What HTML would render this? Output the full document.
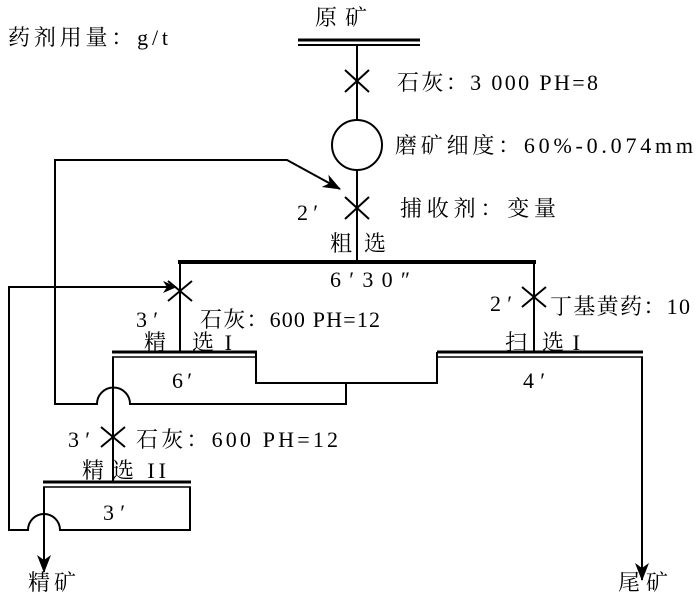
<!DOCTYPE html>
<html><head><meta charset="utf-8"><style>
body{margin:0;background:#fff;width:700px;height:599px;overflow:hidden}
svg text{font-family:"Liberation Serif","Noto Serif CJK SC",serif;font-size:22px;fill:#000}
</style></head><body>
<svg width="700" height="599" viewBox="0 0 700 599" xmlns="http://www.w3.org/2000/svg">
<defs><marker id="a" markerWidth="14" markerHeight="14" refX="13" refY="7" orient="auto" markerUnits="userSpaceOnUse"><path d="M0,1 L14,7 L0,13 L4,7z" fill="#000"/></marker>
<marker id="b" markerWidth="18" markerHeight="16" refX="17" refY="8" orient="auto" markerUnits="userSpaceOnUse"><path d="M0,1 L18,8 L0,15 L5,8z" fill="#000"/></marker></defs>
<g stroke="#000" fill="none" stroke-width="2">
<line x1="298" y1="40" x2="420" y2="40" stroke-width="3"/><line x1="298" y1="45" x2="420" y2="45" stroke-width="2"/>
<line x1="357" y1="45" x2="357" y2="120"/>
<circle cx="357" cy="145" r="25"/>
<line x1="357" y1="170" x2="357" y2="262"/>
<path d="M345,70 L369,92 M369,70 L345,92"/>
<path d="M345,197 L369,219 M369,197 L345,219"/>
<line x1="178" y1="262" x2="536" y2="262" stroke-width="4"/>
<line x1="180" y1="262" x2="180" y2="352"/>
<line x1="534" y1="262" x2="534" y2="352"/>
<path d="M168,301 L180,291 L192,301 M168,281 L180,291 L192,281"/>
<path d="M522,287 L546,307 M546,287 L522,307"/>
<line x1="112" y1="352" x2="257" y2="352" stroke-width="3"/><line x1="112" y1="357" x2="257" y2="357" stroke-width="1.5"/>
<line x1="437" y1="352" x2="643" y2="352" stroke-width="3"/><line x1="437" y1="357" x2="643" y2="357" stroke-width="1.5"/>
<path d="M256,352 L256,383 L437,383 L437,352"/>
<path d="M346,383 L346,404 L130,404 A16,16 0 0 0 97,404 L55,404 L55,160 L287,160 L340,189" marker-end="url(#b)"/>
<line x1="113" y1="357" x2="113" y2="482"/>
<path d="M101,427 L125,447 M125,427 L101,447"/>
<line x1="642" y1="357" x2="642" y2="580" marker-end="url(#b)"/>
<line x1="43" y1="482" x2="191" y2="482" stroke-width="3"/><line x1="43" y1="487" x2="191" y2="487" stroke-width="1.5"/>
<path d="M44,487 L44,572" marker-end="url(#b)"/>
<path d="M190,487 L190,530 L60,530 A16,16 0 0 0 28,530 L9,530 L9,287 L176,287" marker-end="url(#a)"/>
</g>
<text x="315" y="25" textLength="52" lengthAdjust="spacing">原矿</text>
<text x="8" y="45" textLength="160" lengthAdjust="spacing">药剂用量：g/t</text>
<text x="397" y="90" textLength="201" lengthAdjust="spacing">石灰：3 000 PH=8</text>
<text x="395" y="153" textLength="298" lengthAdjust="spacing">磨矿细度：60%-0.074mm</text>
<text x="297" y="220" textLength="21" lengthAdjust="spacing">2′</text>
<text x="400" y="216" textLength="156" lengthAdjust="spacing">捕收剂：变量</text>
<text x="330" y="251">粗</text><text x="364" y="251">选</text>
<text x="330" y="287" textLength="80" lengthAdjust="spacing">6′30″</text>
<text x="136" y="327" textLength="22" lengthAdjust="spacing">3′</text>
<text x="200" y="327" textLength="180" lengthAdjust="spacing">石灰：600  PH=12</text>
<text x="144" y="350">精</text><text x="192" y="350" textLength="40" lengthAdjust="spacing">选I</text>
<text x="490" y="311" textLength="22" lengthAdjust="spacing">2′</text>
<text x="550" y="314" textLength="140" lengthAdjust="spacing">丁基黄药：10</text>
<text x="505" y="350">扫</text><text x="542" y="350" textLength="38" lengthAdjust="spacing">选I</text>
<text x="172" y="388" textLength="20" lengthAdjust="spacing">6′</text>
<text x="523" y="388" textLength="22" lengthAdjust="spacing">4′</text>
<text x="68" y="447" textLength="22" lengthAdjust="spacing">3′</text>
<text x="136" y="447" textLength="202" lengthAdjust="spacing">石灰：600  PH=12</text>
<text x="82" y="478">精</text><text x="112" y="478" textLength="54" lengthAdjust="spacing">选 II</text>
<text x="103" y="520" textLength="22" lengthAdjust="spacing">3′</text>
<text x="28" y="590" textLength="48" lengthAdjust="spacing">精矿</text>
<text x="618" y="590" textLength="50" lengthAdjust="spacing">尾矿</text>
</svg>
</body></html>
